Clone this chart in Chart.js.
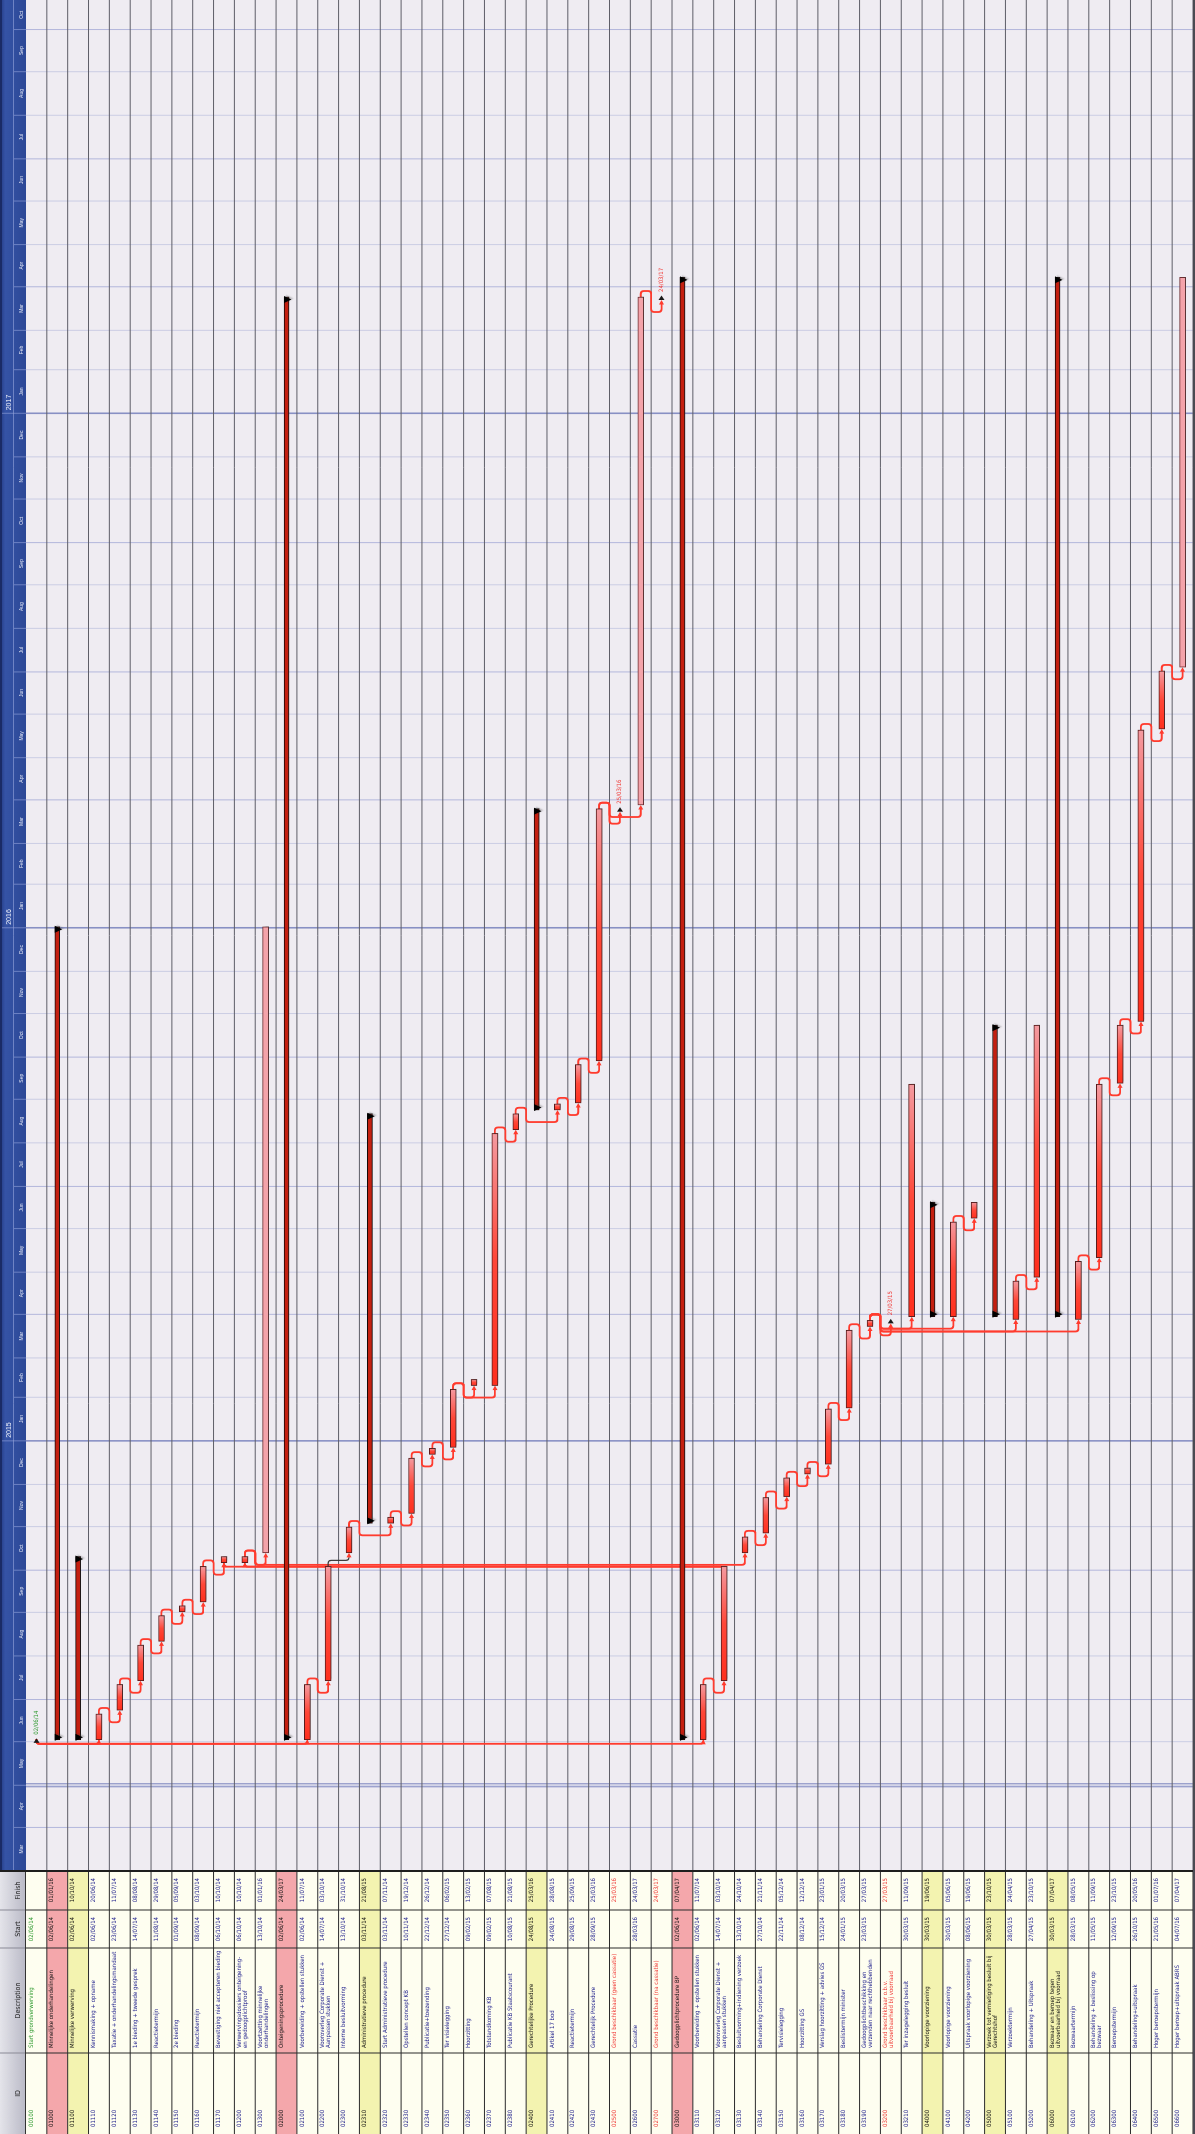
<!DOCTYPE html>
<html><head><meta charset="utf-8">
<script src="https://cdn.jsdelivr.net/npm/chart.js@4.4.1/dist/chart.umd.min.js"></script>
<style>
html,body{margin:0;padding:0;background:#fff;overflow:hidden;width:1195px;height:2134px;}
#wrap{position:absolute;left:0;top:0;width:2134px;height:1195px;transform-origin:0 0;transform:translateY(2134px) rotate(-90deg);}
canvas{display:block;}
</style></head><body>
<div id="wrap"><canvas id="c" width="2134" height="1195"></canvas></div>
<script>
// ---------- DATA ----------
const ids = ['00100','01000','01100','01110','01120','01130','01140','01150','01160','01170','01200','01300',
 '02000','02100','02200','02300','02310','02320','02330','02340','02350','02360','02370','02380','02400','02410','02420','02430','02500','02600','02700',
 '03000','03110','03120','03130','03140','03150','03160','03170','03180','03190','03200','03210','04000','04100','04200','05000','05100','05200',
 '06000','06100','06200','06300','06400','06500','06600'];
const descriptions = ['Start grondverwerving','Minnelijke onderhandelingen','Minnelijke verwerving','Kennismaking + opname',
 'Taxatie + onderhandelingsmandaat','1e bieding + tweede gesprek','Reactietermijn','2e bieding','Reactietermijn',
 'Bevestiging niet accepteren bieding','Verwervingsdossiers onteigening-\nen gedoogplichtproof','Voortzetting minnelijke\nonderhandelingen',
 'Onteigeningsprocedure','Voorbereiding + opstellen stukken','Vooroverleg Corporate Dienst +\nAanpassen stukken','Interne besluitvorming',
 'Administratieve procedure','Start Administratieve procedure','Opstellen concept KB','Publicatie+toezending','Ter visielegging','Hoorzitting',
 'Totstandkoming KB','Publicatie KB Staatscourant','Gerechtelijke Procedure','Artikel 17 bod','Reactietermijn','Gerechtelijk Procedure',
 'Grond beschikbaar (geen cassatie)','Cassatie','Grond beschikbaar (na cassatie)','Gedoogplichtprocedure BP','Voorbereiding + opstellen stukken',
 'Vooroverleg Corporate Dienst +\naanpassen stukken','Besluitvorming+indiening verzoek','Behandeling Corporate Dienst','Tervisielegging',
 'Hoorzitting GS','Verslag hoorzitting + advies GS','Beslistermijn minister','Gedoogplichtbeschikking en\nverzenden naar rechthebbenden',
 'Grond beschikbaar o.b.v.\nuitvoerbaarheid bij voorraad','Ter inzagelegging besluit','Voorlopige voorziening','Voorlopige voorziening',
 'Uitspraak voorlopige voorziening','Verzoek tot vernietiging besluit bij\nGerechtshof','Verzoektermijn','Behandeling + Uitspraak',
 'Bezwaar en beroep tegen\nuitvoerbaarheid bij voorraad','Bezwaartermijn','Behandeling + beslissing op\nbezwaar','Beroepstermijn',
 'Behandeling+uitspraak','Hoger beroepstermijn','Hoger beroep+uitspraak ABRS'];
const starts = ['02/06/14','02/06/14','02/06/14','02/06/14','23/06/14','14/07/14','11/08/14','01/09/14','08/09/14','06/10/14','06/10/14','13/10/14',
 '02/06/14','02/06/14','14/07/14','13/10/14','03/11/14','03/11/14','10/11/14','22/12/14','27/12/14','09/02/15','09/02/15','10/08/15','24/08/15','24/08/15','29/08/15','28/09/15','','28/03/16','',
 '02/06/14','02/06/14','14/07/14','13/10/14','27/10/14','22/11/14','08/12/14','15/12/14','24/01/15','23/03/15','','30/03/15','30/03/15','30/03/15','08/06/15','30/03/15','28/03/15','27/04/15',
 '30/03/15','28/03/15','11/05/15','12/09/15','26/10/15','21/05/16','04/07/16'];
const finishes = ['','01/01/16','10/10/14','20/06/14','11/07/14','08/08/14','29/08/14','05/09/14','03/10/14','10/10/14','10/10/14','01/01/16',
 '24/03/17','11/07/14','03/10/14','31/10/14','21/08/15','07/11/14','19/12/14','26/12/14','06/02/15','13/02/15','07/08/15','21/08/15','25/03/16','28/08/15','25/09/15','25/03/16','25/03/16','24/03/17','24/03/17',
 '07/04/17','11/07/14','03/10/14','24/10/14','21/11/14','05/12/14','12/12/14','23/01/15','20/03/15','27/03/15','27/03/15','11/09/15','19/06/15','05/06/15','19/06/15','23/10/15','24/04/15','23/10/15',
 '07/04/17','08/05/15','11/09/15','23/10/15','20/05/16','01/07/16','07/04/17'];
const levels = [1,1,2,3,3,3,3,3,3,3,2,2, 1,2,2,2,2,3,3,3,3,3,3,3,2,3,3,3,2,2,2, 1,2,2,2,2,2,2,2,2,2,2,2,2,3,3,2,3,3, 2,3,3,3,3,3,3];
const conditionalTasks = ['01300','02600','06600'];
const links = [
 ['00100','01110'],['00100','02100'],['00100','03110'],
 ['01110','01120'],['01120','01130'],['01130','01140'],['01140','01150'],['01150','01160'],['01160','01170'],
 ['03120','01170'],['03120','01200'],['01200','01300'],['01200','03130'],
 ['02100','02200'],['02200','02300'],['02300','02320'],['02320','02330'],['02330','02340'],['02340','02350'],['02350','02360'],['02350','02370'],
 ['02370','02380'],['02380','02410'],['02410','02420'],['02420','02430'],['02430','02500'],['02430','02600'],['02600','02700'],
 ['03110','03120'],['03130','03140'],['03140','03150'],['03150','03160'],['03160','03170'],['03170','03180'],['03180','03190'],
 ['03190','03200'],['03190','03210'],['03190','04100'],['03190','05100'],['03190','06100'],
 ['04100','04200'],['05100','05200'],['06100','06200'],['06200','06300'],['06300','06400'],['06400','06500'],['06500','06600']];
const selectedLink = ['02200','02300'];
const monthNames = ['Jan','Feb','Mar','Apr','May','Jun','Jul','Aug','Sep','Oct','Nov','Dec'];
const tableHeaders = ['ID','Description','Start','Finish'];
const axisStart = '01/03/14', axisEnd = '22/10/17', statusDate = '01/05/14';

// ---------- HELPERS ----------
const BASE = Date.UTC(2014,5,1);
function day(s){ const p = s.split('/').map(Number); return (Date.UTC(2000+p[2], p[1]-1, p[0]) - BASE)/864e5; }
const N = ids.length;
const isMs = i => !starts[i] || !finishes[i];
const isSum = i => i + 1 < N && levels[i+1] > levels[i];
const isCond = i => conditionalTasks.includes(ids[i]);
const sDay = i => day(starts[i]) + 0.33;
const fDay = i => day(finishes[i]) + 0.71;
const msDay = i => finishes[i] ? fDay(i) : sDay(i);
const taskBars = ids.map((_, i) => (!isMs(i) && !isSum(i)) ? [sDay(i), fDay(i)] : null);
const summaryBars = ids.map((_, i) => isSum(i) ? [sDay(i), fDay(i)] : null);

const months = [];
(function(){ const a = new Date(BASE + day(axisStart)*864e5), e = BASE + day(axisEnd)*864e5;
  let y = a.getUTCFullYear(), m = a.getUTCMonth();
  while (Date.UTC(y,m,1) <= e) { months.push({y, m, d:(Date.UTC(y,m,1)-BASE)/864e5, d2:(Date.UTC(y,m+1,1)-BASE)/864e5}); m++; if (m>11){m=0;y++;} }
})();

const NARROW = '"Liberation Sans Narrow","Arial Narrow","DejaVu Sans Condensed",sans-serif';
const SANS = '"Liberation Sans",Arial,sans-serif';
const COL = {id:[0,81], desc:[81,186], start:[186,224], fin:[224,263]};
const HEAD = 26;

function textColor(i){
  if (isMs(i)) return finishes[i] ? '#f03a36' : '#2f9a30';
  if (isSum(i)) return '#111111';
  return '#1c1c8a';
}
function rowFill(i){
  if (isSum(i)) return levels[i] === 1 ? '#f4a7ab' : '#f3f3b0';
  return '#fefef0';
}
function line(ctx,x1,y1,x2,y2){ ctx.beginPath(); ctx.moveTo(x1,y1); ctx.lineTo(x2,y2); ctx.stroke(); }

function taskFill(c){
  const ch = c.chart;
  if (!ch.chartArea || !c.raw) return '#ff3a2a';
  if (isCond(c.dataIndex)) return '#f4a3aa';
  const xs = ch.scales.x;
  const x0 = xs.getPixelForValue(c.raw[0]), x1 = xs.getPixelForValue(c.raw[1]);
  const g = ch.ctx.createLinearGradient(x0, 0, Math.max(x1, x0+1), 0);
  g.addColorStop(0, '#ff2f1e'); g.addColorStop(0.5, '#ff4738'); g.addColorStop(1, '#f49aa0');
  return g;
}

const gantt = {
  id: 'gantt',
  beforeDraw(ch){
    const ctx = ch.ctx, a = ch.chartArea, xs = ch.scales.x, ys = ch.scales.y;
    const rowH = (a.bottom - a.top) / N;
    ctx.save();
    ctx.fillStyle = '#ffffff'; ctx.fillRect(0, 0, ch.width, ch.height);
    ctx.fillStyle = '#efecf2'; ctx.fillRect(a.left, a.top, a.right - a.left, a.bottom - a.top);
    months.forEach(mo => {
      const x = xs.getPixelForValue(mo.d);
      if (x <= a.left || x > a.right) return;
      ctx.strokeStyle = mo.m === 0 ? '#8890c4' : (mo.m % 3 === 0 ? '#b3b7dc' : '#cbcde4');
      ctx.lineWidth = mo.m === 0 ? 1.6 : 1;
      line(ctx, x, a.top, x, a.bottom);
    });
    const xsd = xs.getPixelForValue(day(statusDate));
    ctx.strokeStyle = '#7d86c0'; ctx.lineWidth = 1;
    line(ctx, xsd - 1.5, a.top, xsd - 1.5, a.bottom); line(ctx, xsd + 1.5, a.top, xsd + 1.5, a.bottom);
    ctx.strokeStyle = '#5e5e68'; ctx.lineWidth = 1;
    for (let i = 0; i < N; i++) { const y = ys.getPixelForValue(i) + rowH/2; line(ctx, a.left, y, a.right, y); }

    // ---------- table ----------
    for (let i = 0; i < N; i++) {
      const yc = ys.getPixelForValue(i), top = yc - rowH/2;
      ctx.fillStyle = rowFill(i); ctx.fillRect(0, top, a.left, rowH);
      ctx.fillStyle = textColor(i);
      ctx.font = '6px ' + NARROW; ctx.textBaseline = 'alphabetic';
      ctx.textAlign = 'left';
      ctx.fillText(ids[i], 7, top + 6.6);
      descriptions[i].split('\n').forEach((ln, k) => ctx.fillText(ln, COL.desc[0] + 5, top + 6.6 + k*6));
      ctx.textAlign = 'right';
      if (starts[i]) ctx.fillText(starts[i], COL.start[1] - 7, top + 6.6);
      if (finishes[i]) ctx.fillText(finishes[i], COL.fin[1] - 7, top + 6.6);
    }
    ctx.strokeStyle = '#2b2b2b'; ctx.lineWidth = 1;
    for (let i = 0; i < N; i++) { const y = ys.getPixelForValue(i) + rowH/2; line(ctx, 0, y, a.left, y); }
    [COL.desc[0], COL.start[0], COL.fin[0]].forEach(x => line(ctx, x, HEAD, x, a.bottom));
    const hg = ctx.createLinearGradient(0, 0, 0, HEAD);
    hg.addColorStop(0, '#e4e4ea'); hg.addColorStop(1, '#b9b9c6');
    ctx.fillStyle = hg; ctx.fillRect(0, 0, a.left, HEAD);
    ctx.strokeStyle = '#8a8a96';
    [COL.desc[0], COL.start[0], COL.fin[0]].forEach(x => line(ctx, x, 0, x, HEAD));
    ctx.fillStyle = '#222'; ctx.font = '7px ' + NARROW; ctx.textAlign = 'center';
    [COL.id, COL.desc, COL.start, COL.fin].forEach((c, k) => ctx.fillText(tableHeaders[k], (c[0]+c[1])/2, 20));
    ctx.strokeStyle = '#333'; line(ctx, 0, HEAD - 0.5, a.left, HEAD - 0.5);

    // ---------- timeline header ----------
    const tg = ctx.createLinearGradient(0, 0, 0, HEAD);
    tg.addColorStop(0, '#233a82'); tg.addColorStop(0.2, '#3553a6'); tg.addColorStop(1, '#2c4896');
    ctx.fillStyle = tg; ctx.fillRect(a.left, 0, a.right - a.left, HEAD);
    ctx.fillStyle = '#1a2b66'; ctx.fillRect(a.left, 0, a.right - a.left, 2);
    ctx.strokeStyle = 'rgba(160,175,225,0.55)'; ctx.lineWidth = 1;
    line(ctx, a.left, 13.5, a.right, 13.5);
    ctx.save();
    ctx.beginPath(); ctx.rect(a.left, 0, a.right - a.left, HEAD); ctx.clip();
    months.forEach(mo => {
      const x0 = Math.max(xs.getPixelForValue(mo.d), a.left), x1 = Math.min(xs.getPixelForValue(mo.d2), a.right);
      ctx.strokeStyle = 'rgba(150,165,220,0.6)';
      if (x0 > a.left) line(ctx, x0, mo.m === 0 ? 2 : 14, x0, HEAD);
      ctx.fillStyle = '#e4e8f6'; ctx.font = '5px ' + SANS; ctx.textAlign = 'center';
      if (x1 - x0 > 10) ctx.fillText(monthNames[mo.m], (x0 + x1)/2, 23);
      if (mo.m === 0) {
        ctx.fillStyle = '#eef0fa'; ctx.font = '7px ' + SANS; ctx.textAlign = 'left';
        ctx.fillText(String(mo.y), x0 + 3, 11);
      }
    });
    ctx.restore();
    ctx.fillStyle = '#1e1e1e'; ctx.fillRect(a.left - 1, 0, 2, a.bottom);
    ctx.fillStyle = '#4a4a52'; ctx.fillRect(0, a.bottom, ch.width, ch.height - a.bottom);
    ctx.restore();
  },
  beforeDatasetsDraw(ch){
    const ctx = ch.ctx, xs = ch.scales.x, ys = ch.scales.y, a = ch.chartArea;
    const rowH = (a.bottom - a.top) / N;
    const X = v => xs.getPixelForValue(v);
    ctx.save();
    ctx.lineJoin = 'round'; ctx.lineCap = 'round';
    links.forEach(([p, s]) => {
      const rp = ids.indexOf(p), rs = ids.indexOf(s);
      const yp = ys.getPixelForValue(rp), yq = ys.getPixelForValue(rs);
      const xE = X(isMs(rp) ? msDay(rp) : fDay(rp));
      const xS = isMs(rs) ? X(msDay(rs)) - 3 : X(sDay(rs));
      let pts;
      if (isMs(rp)) { const lx = xE - 4; pts = [[xE, yp], [lx, yp], [lx, yq], [xS, yq]]; }
      else if (rs < rp) { const lx = Math.min(xE, xS - 4); pts = [[lx, yp - 3], [lx, yq], [xS, yq]]; }
      else if (xS >= xE + 10) { pts = [[xE, yp], [xE + 6, yp], [xE + 6, yq], [xS, yq]]; }
      else { const yb = yp + rowH/2, lx = xS - 12; pts = [[xE, yp], [xE + 6, yp], [xE + 6, yb], [lx, yb], [lx, yq], [xS, yq]]; }
      const sel = p === selectedLink[0] && s === selectedLink[1];
      ctx.strokeStyle = sel ? '#3a3a3a' : '#ff3b2e';
      ctx.lineWidth = sel ? 1.2 : 1.8;
      const last = pts[pts.length - 1];
      ctx.beginPath(); ctx.moveTo(pts[0][0], pts[0][1]);
      for (let k = 1; k < pts.length - 1; k++) ctx.arcTo(pts[k][0], pts[k][1], pts[k+1][0], pts[k+1][1], 3);
      ctx.lineTo(last[0] - 3, last[1]); ctx.stroke();
      ctx.fillStyle = '#ff3b2e';
      ctx.beginPath(); ctx.moveTo(last[0], last[1]); ctx.lineTo(last[0] - 4.5, last[1] - 2.5); ctx.lineTo(last[0] - 4.5, last[1] + 2.5); ctx.closePath(); ctx.fill();
    });
    ctx.restore();
  },
  beforeDatasetDraw(ch){
    const ctx = ch.ctx; ctx.save();
    ctx.shadowColor = 'rgba(60,60,60,0.35)'; ctx.shadowBlur = 2; ctx.shadowOffsetX = 2; ctx.shadowOffsetY = 3;
  },
  afterDatasetDraw(ch){ ch.ctx.restore(); },
  afterDatasetsDraw(ch){
    const ctx = ch.ctx, xs = ch.scales.x, ys = ch.scales.y;
    const X = v => xs.getPixelForValue(v);
    ctx.save();
    ctx.fillStyle = '#000';
    ctx.shadowColor = 'rgba(60,60,60,0.3)'; ctx.shadowBlur = 1.5; ctx.shadowOffsetX = 1; ctx.shadowOffsetY = 2;
    ids.forEach((_, i) => {
      if (!isSum(i)) return;
      const yc = ys.getPixelForValue(i), x0 = X(sDay(i)), x1 = X(fDay(i));
      ctx.beginPath(); ctx.moveTo(x0 - 1, yc - 2.5); ctx.lineTo(x0 + 6, yc - 2.5); ctx.lineTo(x0 + 2.5, yc + 5); ctx.closePath(); ctx.fill();
      ctx.beginPath(); ctx.moveTo(x1 - 6, yc - 2.5); ctx.lineTo(x1 + 1, yc - 2.5); ctx.lineTo(x1 - 2.5, yc + 5); ctx.closePath(); ctx.fill();
    });
    ctx.shadowColor = 'transparent';
    ids.forEach((_, i) => {
      if (!isMs(i)) return;
      const yc = ys.getPixelForValue(i), x = X(msDay(i));
      ctx.fillStyle = '#1a1a1a';
      ctx.beginPath(); ctx.moveTo(x + 1.5, yc); ctx.lineTo(x - 3, yc - 3); ctx.lineTo(x - 3, yc + 3); ctx.closePath(); ctx.fill();
      ctx.fillStyle = textColor(i); ctx.font = '6px ' + NARROW; ctx.textAlign = 'left'; ctx.textBaseline = 'middle';
      ctx.fillText(finishes[i] || starts[i], x + 5, yc);
    });
    ctx.restore();
  }
};

new Chart(document.getElementById('c'), {
  type: 'bar',
  data: { labels: ids, datasets: [
    { label: 'Taken', data: taskBars, grouped: false, barThickness: 6, backgroundColor: taskFill,
      borderColor: (c) => isCond(c.dataIndex) ? '#6e2f33' : '#5a1c1c', borderWidth: 1, borderSkipped: false },
    { label: 'Samenvatting', data: summaryBars, grouped: false, barThickness: 5, backgroundColor: '#c41f10',
      borderColor: '#140606', borderWidth: 1, borderSkipped: false }
  ]},
  options: {
    indexAxis: 'y', responsive: false, animation: false, devicePixelRatio: 1,
    layout: { padding: { left: 263, top: HEAD, right: 0, bottom: 2 } },
    scales: {
      x: { type: 'linear', min: day(axisStart), max: day(axisEnd), display: false },
      y: { type: 'category', display: false, offset: true }
    },
    plugins: { legend: { display: false }, tooltip: { enabled: false } }
  },
  plugins: [gantt]
});
</script>
</body></html>
